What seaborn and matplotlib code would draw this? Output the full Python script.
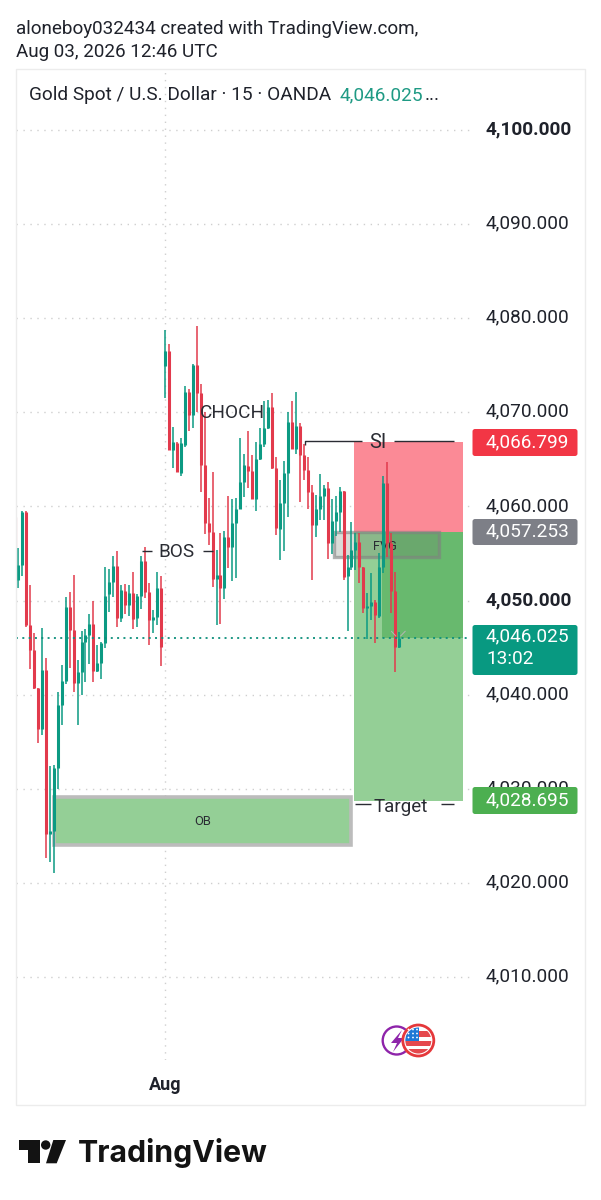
import numpy as np
import pandas as pd
import matplotlib
matplotlib.use("Agg")
import matplotlib.pyplot as plt
from matplotlib.patches import Rectangle, Polygon, Circle, FancyBboxPatch
from matplotlib.transforms import Affine2D, ScaledTranslation
import seaborn as sns

# ---------- candle data ----------
opens = [4052.0,4053.6,4059.2,4047.2,4044.6,4040.5,4036.15,4042.45,4025.0,4025.35,4032.0,4038.75,4041.3,4049.2,4046.7,4041.1,4042.2,4045.4,4046.2,4047.3,4042.4,4043.25,4045.3,4050.5,4051.8,4053.5,4048.0,4050.85,4049.35,4050.6,4047.95,4050.35,4054.0,4050.7,4047.75,4048.05,4051.15,
         4074.8,4076.35,4065.85,4066.55,4063.35,4066.4,4072.05,4069.55,4074.85,4071.85,4064.25,4058.1,4057.15,4052.15,4052.6,4051.15,4056.55,4055.55,4058.05,4059.55,4062.4,4064.15,4063.65,4060.65,4064.9,4066.45,4068.15,4070.45,4063.9,4057.45,4060.25,4063.35,4068.85,4065.95,4068.4,4065.3,4063.7,
         4061.35,4057.85,4059.55,4060.95,4061.75,4056.0,4058.3,4059.2,4061.5,4052.45,4053.35,4055.2,4056.1,4053.35,4049.0,4049.25,4049.7,4048.15,4053.45,4062.3,4055.9,4050.8,4044.95]
closes = [4053.6,4059.2,4047.2,4044.6,4040.5,4036.15,4042.45,4025.0,4025.35,4032.0,4038.75,4041.3,4049.2,4046.7,4041.1,4042.2,4045.4,4046.2,4047.3,4042.4,4043.25,4045.3,4050.3,4051.8,4053.5,4048.0,4051.0,4049.35,4050.6,4047.85,4050.35,4054.0,4050.7,4047.75,4048.05,4051.15,4044.95,
          4076.35,4065.85,4066.7,4063.45,4066.55,4072.05,4069.55,4074.85,4071.85,4064.25,4058.1,4057.15,4052.15,4052.6,4051.15,4056.55,4055.55,4058.05,4059.55,4062.4,4064.25,4063.65,4060.65,4064.9,4066.45,4068.15,4070.45,4063.9,4057.5,4060.25,4063.35,4068.85,4065.95,4068.4,4065.3,4063.7,4061.35,
          4057.85,4059.55,4060.95,4061.75,4056.0,4058.3,4059.2,4061.5,4052.3,4053.35,4055.2,4056.1,4053.35,4049.0,4049.25,4049.7,4048.25,4053.45,4062.3,4055.9,4050.8,4044.95,4045.87]
highs = [4055.39,4059.3,4059.3,4051.5,4046.35,4040.5,4046.9,4043.7,4032.25,4032.35,4040.15,4043.0,4050.25,4050.75,4052.5,4043.5,4046.6,4046.8,4048.4,4049.8,4045.1,4045.4,4053.35,4053.15,4054.55,4055.1,4051.5,4051.55,4051.45,4052.85,4050.5,4054.55,4055.5,4051.65,4048.85,4052.9,4052.4,
         4078.6,4077.05,4068.3,4066.7,4067.1,4072.65,4072.3,4074.95,4079.0,4072.8,4069.9,4060.7,4063.45,4055.2,4057.0,4057.25,4060.9,4060.65,4060.7,4067.1,4065.4,4067.9,4065.3,4066.7,4068.2,4071.0,4071.15,4071.85,4065.05,4062.65,4064.65,4069.85,4071.05,4071.95,4068.75,4066.45,4065.05,
         4062.1,4061.1,4063.25,4062.1,4062.4,4060.65,4060.95,4061.95,4061.5,4054.7,4058.15,4057.0,4057.0,4053.45,4050.6,4052.75,4049.9,4054.85,4063.05,4064.6,4057.0,4052.85,4046.45]
lows = [4051.14,4052.45,4047.06,4042.6,4040.4,4034.7,4035.55,4022.45,4022.1,4020.85,4029.8,4036.6,4040.95,4042.7,4040.1,4036.6,4039.75,4041.2,4043.05,4041.2,4042.2,4041.45,4044.75,4048.65,4050.25,4047.05,4047.6,4048.4,4048.15,4046.8,4047.05,4048.9,4050.15,4045.1,4046.35,4047.25,4042.9,
        4071.35,4065.85,4063.9,4063.45,4063.1,4066.2,4067.9,4068.15,4069.9,4061.35,4056.9,4055.75,4051.3,4047.25,4047.35,4050.0,4053.25,4051.95,4052.25,4059.55,4060.8,4061.75,4060.65,4059.4,4064.75,4066.1,4068.05,4063.8,4056.75,4054.1,4055.15,4058.75,4065.95,4065.4,4060.35,4062.65,4059.55,
        4052.0,4056.55,4058.4,4058.35,4054.2,4054.75,4056.65,4057.15,4052.0,4046.55,4053.1,4053.1,4051.75,4048.55,4045.7,4047.75,4045.35,4047.95,4052.75,4054.5,4048.55,4042.2,4044.75]
bars = list(range(len(opens)))
reading_offset = 0.16   # the arrays were read against the tick labels, which sit just above the grid

price_ticks = [4100, 4090, 4080, 4070, 4060, 4050, 4040, 4030, 4020, 4010]
price_labels = ["4,100.000", "4,090.000", "4,080.000", "4,070.000", "4,060.000",
                "4,050.000", "4,040.000", "4,030.000", "4,020.000", "4,010.000"]
bold_labels = ["4,100.000", "4,050.000"]
aug_bar = 37
last_price = 4046.025
stop_price = 4066.799
entry_price = 4057.253
target_price = 4028.695
ob_top, ob_bottom = 4029.12, 4024.02
fvg_top, fvg_bottom = 4057.3, 4054.6

RED, TEAL = "#e23a4c", "#0c9a83"
INK = "#1f222b"

# ---------- figure ----------
sns.set_theme(style="white")
plt.rcParams["font.family"] = ["Roboto", "DejaVu Sans"]
plt.rcParams["lines.solid_capstyle"] = "butt"

W, H = 601, 1200
fig = plt.figure(figsize=(W / 100, H / 100), dpi=100, facecolor="white")
PX = Affine2D().scale(1, -1).translate(0, H)   # pixel coordinates, origin top-left

L, R, T, B = 16, 470, 70, 1060
ax = fig.add_axes([L / W, (H - B) / H, (R - L) / W, (B - T) / H], facecolor="none")
ax.set_xlim(-0.504, 113.85)
ax.set_ylim(4001.17, 4106.376)
sns.despine(ax=ax, left=True, bottom=True, right=True, top=True)

# zones
def zone(x0, x1, y0, y1, **kw):
    ax.add_patch(Rectangle((x0, y0), x1 - x0, y1 - y0, linewidth=kw.pop("linewidth", 0), **kw))

zone(84.6, 112.1, entry_price, stop_price, facecolor="#fb8a96", zorder=2)
zone(84.6, 112.1, target_price, entry_price, facecolor="#94cf96", zorder=2)
zone(91.7, 112.1, last_price, entry_price, facecolor="#68b96e", zorder=2.1)
zone(9.0, 83.9, ob_bottom, ob_top, facecolor="#94cf96", edgecolor="#bcbcbc", linewidth=2.6, zorder=2)
zone(79.6, 106.0, fvg_bottom, fvg_top, facecolor=(0.45, 0.47, 0.42, 0.26),
     edgecolor=(0.5, 0.5, 0.5, 0.6), linewidth=2.4, zorder=2.2)

# candles through seaborn
frame = pd.DataFrame({"bar": bars, "open": opens, "close": closes, "high": highs, "low": lows})
frame[["open", "close", "high", "low"]] += reading_offset
frame["side"] = np.where(frame["close"] >= frame["open"], "up", "down")
palette = {"up": TEAL, "down": RED}
wicks = frame.melt(id_vars=["bar", "side"], value_vars=["low", "high"], value_name="price")
bodies = frame.melt(id_vars=["bar", "side"], value_vars=["open", "close"], value_name="price")
ax.vlines(-0.42, 4052.16, 4058.91, color="#e9c6ca", linewidth=1, zorder=3)
sns.lineplot(data=wicks, x="bar", y="price", units="bar", hue="side", palette=palette,
             estimator=None, sort=False, linewidth=1.1, legend=False, ax=ax, zorder=3)
sns.lineplot(data=bodies, x="bar", y="price", units="bar", hue="side", palette=palette,
             estimator=None, sort=False, linewidth=2.2, legend=False, ax=ax, zorder=3.1)
ax.set_xlabel("")
ax.set_ylabel("")

# axes furniture
ax.yaxis.tick_right()
ax.set_yticks(price_ticks, price_labels)
ax.set_xticks([aug_bar], ["Aug"])
ax.tick_params(axis="y", length=0, pad=11.5, labelsize=13.7, labelcolor=INK)
ax.tick_params(axis="x", length=0, pad=11.5, labelsize=13, labelcolor=INK)
lift = ScaledTranslation(0, 0.025, fig.dpi_scale_trans)
for lab in ax.get_yticklabels():
    lab.set_transform(lab.get_transform() + lift)
    if lab.get_text() in bold_labels:
        lab.set_fontweight("bold")
for lab in ax.get_xticklabels():
    lab.set_fontweight("bold")
ax.grid(True, axis="both", color="#cfcfcf", linewidth=1, linestyle=(0, (1, 4)), zorder=0)
ax.set_axisbelow(True)
ax.axhline(last_price, color="#0c8f7b", linewidth=1.3, linestyle=(0, (1.1, 2.4)), zorder=4)

# drawings
LINE = "#2a2c33"
line_stop = stop_price + 0.12
ax.plot([72.2, 72.2, 86.7], [line_stop - 0.4, line_stop, line_stop], color=LINE, lw=1, zorder=3.5)
ax.plot([94.8, 109.8], [line_stop, line_stop], color=LINE, lw=1, zorder=3.5)
ax.text(90.7, stop_price, "SI", ha="center", va="center", fontsize=14.5, color=LINE, zorder=4)
ax.text(53.9, 4069.9, "CHOCH", ha="center", va="center", fontsize=13.7, color=LINE, zorder=4)
ax.text(40.0, 4055.2, "BOS", ha="center", va="center", fontsize=13.7, color=LINE, zorder=4)
ax.plot([31.2, 33.8], [4055.26, 4055.26], color=LINE, lw=1, zorder=3.5)
ax.plot([46.6, 49.0], [4055.26, 4055.26], color=LINE, lw=1, zorder=3.5)
ax.text(96.5, 4028.1, "Target", ha="center", va="center", fontsize=13.5, color=LINE, zorder=4)
ax.plot([85.0, 88.8], [4028.37, 4028.37], color=LINE, lw=1, zorder=3.5)
ax.plot([106.5, 109.8], [4028.37, 4028.37], color=LINE, lw=1, zorder=3.5)
ax.text(46.6, 4026.55, "OB", ha="center", va="center", fontsize=9.3, color=LINE, zorder=4)
ax.text(92.5, 4055.76, "FVG", ha="center", va="center", fontsize=9.2, color=LINE, zorder=2.6)
ax.plot([94.0, 95.2], [4046.76, 4046.2], color="#b5b5b5", lw=0.7, zorder=3.9)
ax.plot([96.3, 97.6], [4046.2, 4046.76], color="#b5b5b5", lw=0.7, zorder=3.9)

# overlay in pixel coordinates
def ftext(x, y, s, **kw):
    kw.setdefault("color", INK)
    kw.setdefault("va", "center")
    kw.setdefault("zorder", 6)
    return fig.text(x, y, s, transform=PX, **kw)

def fpatch(p):
    p.set_transform(PX)
    p.set_zorder(p.get_zorder() if p.get_zorder() > 4 else 5)
    fig.add_artist(p)

# chart frame
fpatch(Rectangle((15.5, 69), 569.5, 1036, facecolor="none", edgecolor="#ececec", linewidth=1))

# header
ftext(16, 28.5, "aloneboy032434 created with TradingView.com,", fontsize=13.55)
ftext(16, 52, "Aug 03, 2026 12:46 UTC", fontsize=13.55)
ftext(29, 95, "Gold Spot / U.S. Dollar · 15 · OANDA", fontsize=13.65)
ftext(340, 95, "4,046.025", fontsize=13.65, color="#1f9a84")
ftext(425, 95, "...", fontsize=13.65)

# price tags
def tag(y0, y1, color, s, sub=None):
    fpatch(FancyBboxPatch((472.5, y0), 105, y1 - y0, boxstyle="round,pad=0,rounding_size=2.5",
                          facecolor=color, edgecolor="none", linewidth=0))
    if sub is None:
        ftext(486, (y0 + y1) / 2 - 0.5, s, fontsize=13.7, color="white")
    else:
        ftext(486, y0 + 11, s, fontsize=13.7, color="white")
        ftext(486, y0 + 34.5, sub, fontsize=13.7, color="white")

tag(429, 456, "#f23645", "4,066.799")
tag(519, 545, "#7d7f87", "4,057.253")
tag(625, 675, "#089981", "4,046.025", "13:02")
tag(787, 814, "#4caf50", "4,028.695")

# broker badge
fpatch(Circle((396.7, 1040.5), 14, facecolor="white", edgecolor="#8e24aa", linewidth=1.7))
fpatch(Polygon([(402, 1030), (391, 1043), (397, 1043), (393, 1052), (404, 1038), (398, 1038)],
               facecolor="#8e24aa", edgecolor="none", zorder=5.1))
flag_clip = Circle((418.3, 1040.5), 13, transform=PX)
fpatch(Circle((418.3, 1040.5), 15.5, facecolor="white", edgecolor="#e5383b", linewidth=2, zorder=5.2))
for yy in (1034, 1043.5, 1052):
    st = Rectangle((404, yy - 2.6), 30, 5.2, facecolor="#e5484d", edgecolor="none", transform=PX, zorder=5.3)
    fig.add_artist(st)
    st.set_clip_path(flag_clip)
canton = Rectangle((404, 1026), 14.5, 15, facecolor="#1e78d6", edgecolor="none", transform=PX, zorder=5.4)
fig.add_artist(canton)
canton.set_clip_path(flag_clip)
for sx in (408.5, 413, 417):
    for sy in (1029.5, 1033.5, 1037.5):
        fpatch(Circle((sx, sy), 0.9, facecolor="white", edgecolor="none", zorder=5.5))

# TradingView logo
LOGO = "#131313"
fpatch(Polygon([(19, 1140), (39.5, 1140), (39.5, 1163.3), (28.3, 1163.3), (28.3, 1150), (19, 1150)],
               facecolor=LOGO, edgecolor="none"))
fpatch(Circle((45.7, 1145), 4.7, facecolor=LOGO, edgecolor="none"))
fpatch(Polygon([(53.3, 1140), (66, 1140), (56.7, 1163.3), (46, 1163.3)], facecolor=LOGO, edgecolor="none"))
ftext(77.5, 1153.5, "TradingView", fontsize=21.8, fontweight="bold", family=["Inter", "DejaVu Sans"], color=LOGO)

fig.savefig("out.png", dpi=100, facecolor="white")
